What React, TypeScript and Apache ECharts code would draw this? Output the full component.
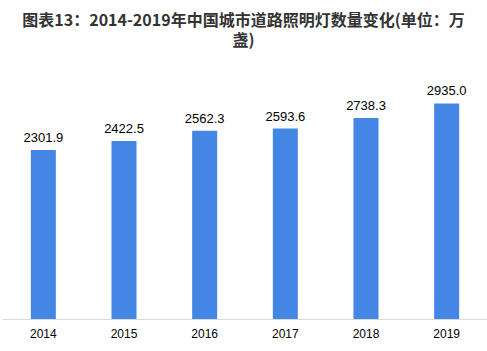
import React, { useEffect, useRef } from "react";
import * as echarts from "echarts";

const categories = ["2014", "2015", "2016", "2017", "2018", "2019"];
const values = [2301.9, 2422.5, 2562.3, 2593.6, 2738.3, 2935.0];
const titleLine1 = "图表13：2014-2019年中国城市道路照明灯数量变化(单位：万";
const titleLine2 = "盏)";

export default function App() {
  const ref = useRef<HTMLDivElement>(null);
  useEffect(() => {
    if (!ref.current) return;
    const chart = echarts.init(ref.current, null, { renderer: "svg" });
    const titleStyle = {
      fontFamily: "Noto Sans CJK SC",
      fontWeight: "bold",
      fontSize: 16,
      color: "#333333",
      lineHeight: 16,
    };
    chart.setOption({
      animation: false,
      backgroundColor: "#ffffff",
      title: [
        { text: titleLine1, left: "center", top: 11, padding: 0, textStyle: titleStyle },
        { text: titleLine2, left: "center", top: 31, padding: 0, textStyle: titleStyle },
      ],
      grid: { left: 3, right: 0, top: 62, bottom: 32, containLabel: false },
      xAxis: {
        type: "category",
        data: categories,
        axisLine: { lineStyle: { color: "#d9d9d9", width: 1 } },
        axisTick: { show: false },
        axisLabel: {
          color: "#000000",
          fontFamily: "Liberation Sans",
          fontSize: 12,
          margin: 9,
        },
      },
      yAxis: {
        type: "value",
        min: 0,
        max: 3500,
        show: false,
        splitLine: { show: false },
      },
      series: [
        {
          type: "bar",
          data: values,
          barWidth: "31%",
          itemStyle: { color: "#4386E3" },
          label: {
            show: true,
            position: "top",
            distance: 6,
            color: "#000000",
            fontFamily: "Liberation Sans",
            fontSize: 13,
            formatter: (p: any) => Number(p.value).toFixed(1),
          },
        },
      ],
    });
    return () => chart.dispose();
  }, []);
  return <div ref={ref} style={{ width: 487, height: 351, position: "absolute", left: 0, top: 0 }} />;
}
